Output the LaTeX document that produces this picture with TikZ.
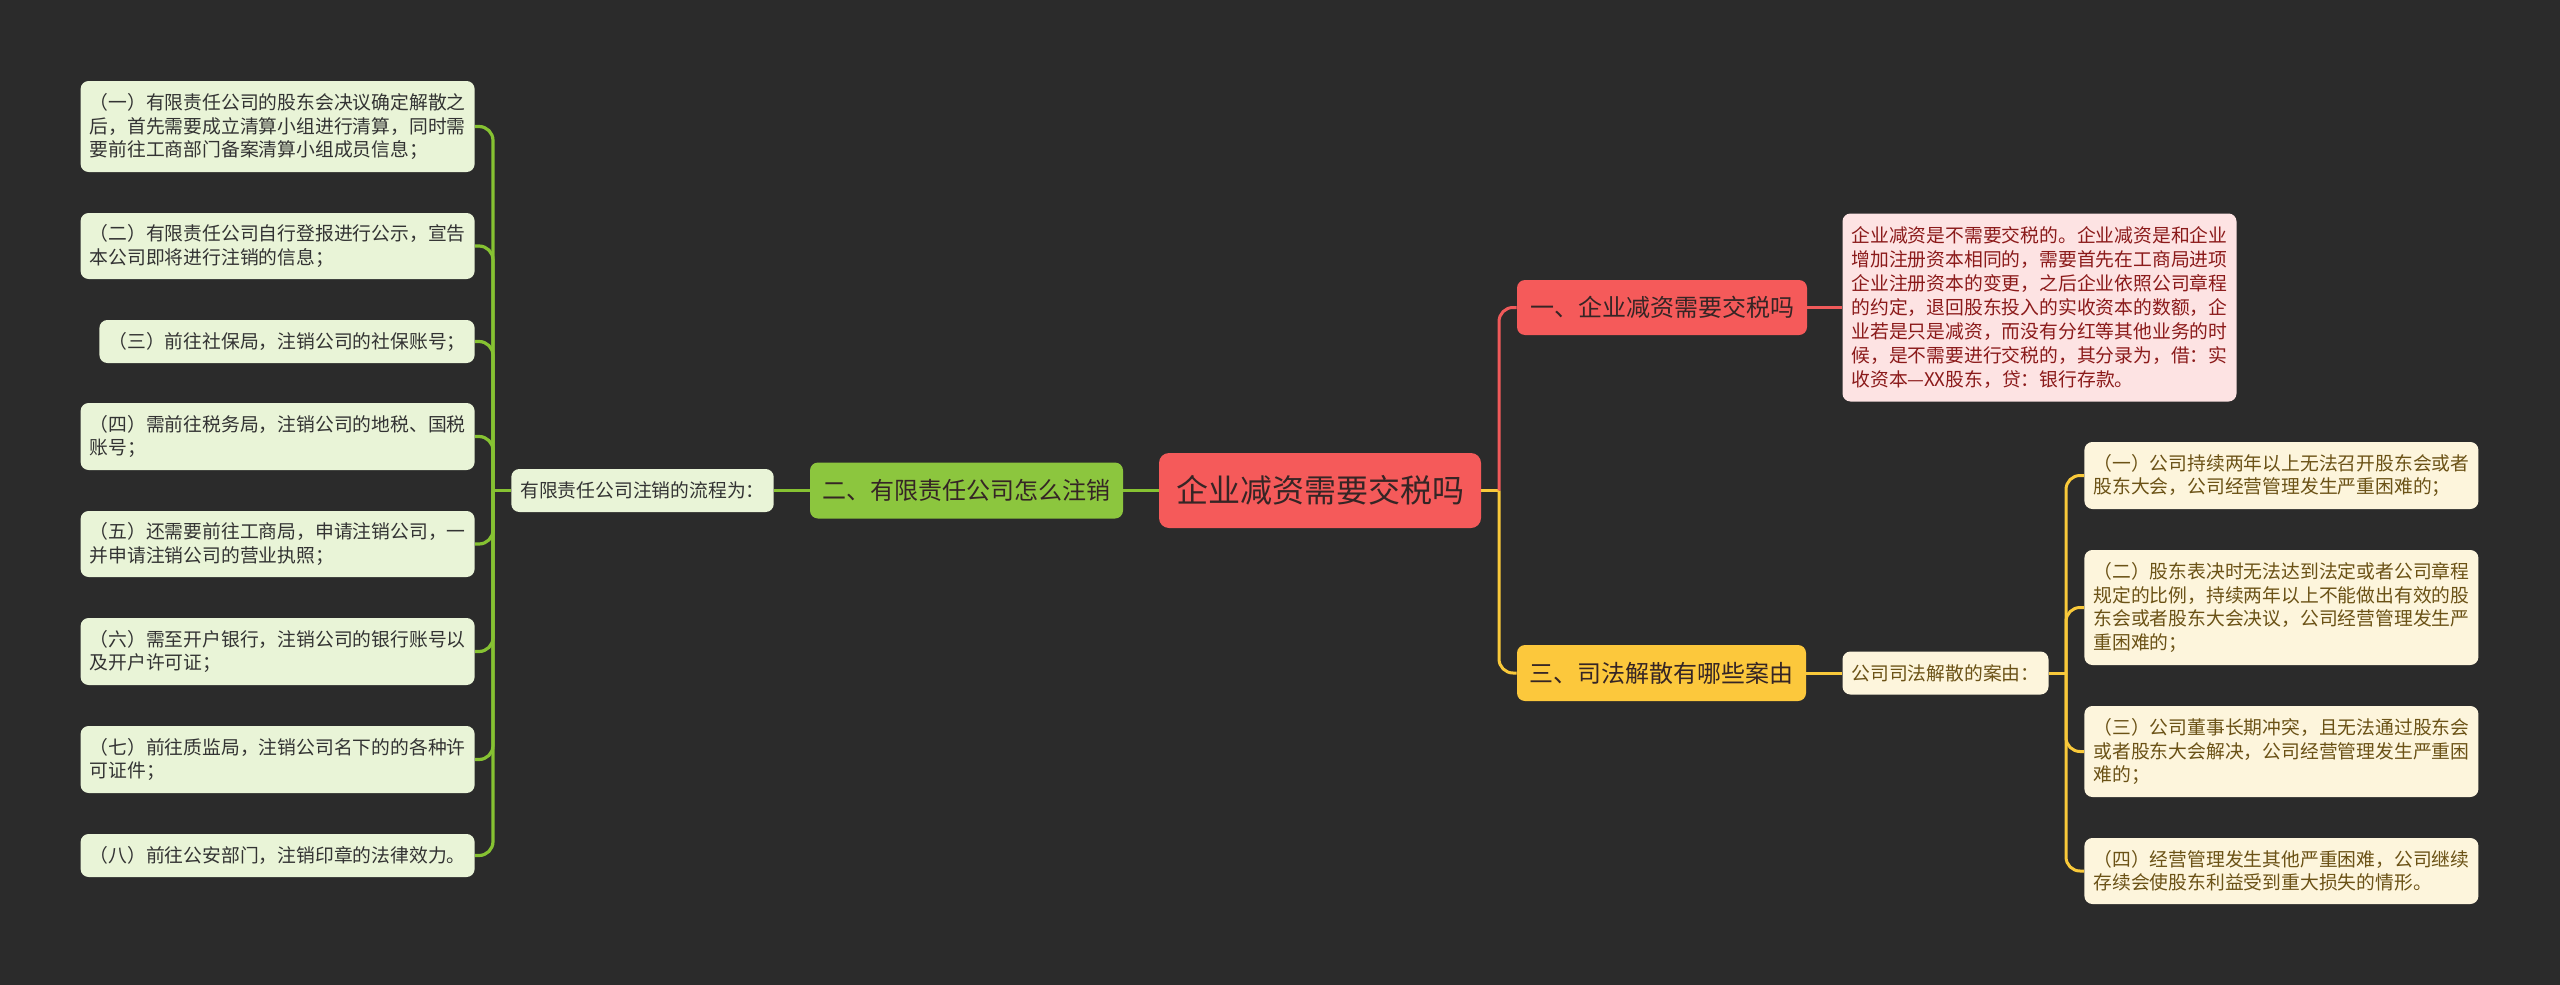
\documentclass[tikz,border=0pt]{standalone}
\usepackage{fontspec}
\newfontfamily\cjk{Noto Sans CJK SC}
\definecolor{bg}{HTML}{2B2B2B}
\definecolor{gline}{HTML}{86C232}
\definecolor{gfill}{HTML}{8CC63E}
\definecolor{gleaf}{HTML}{E9F4D7}
\definecolor{gtext}{HTML}{333333}
\definecolor{rfill}{HTML}{F55A5A}
\definecolor{rline}{HTML}{F05A5A}
\definecolor{pfill}{HTML}{FDE3E3}
\definecolor{ptext}{HTML}{8B1A1A}
\definecolor{yfill}{HTML}{FCC83C}
\definecolor{yline}{HTML}{F9C93A}
\definecolor{cfill}{HTML}{FDF5DC}
\definecolor{ctext}{HTML}{6B5216}
\definecolor{dtext}{HTML}{352525}
\begin{document}
\begin{tikzpicture}[x=0.5pt,y=-0.5pt,
  box/.style={rounded corners=4pt, inner xsep=4.5pt, inner ysep=0pt, align=left,
    font=\cjk\fontsize{9.4pt}{11.75pt}\selectfont},
  gleafbox/.style={box, fill=gleaf, text=gtext, anchor=east},
  yleafbox/.style={box, fill=cfill, text=ctext, anchor=west},
  branchbox/.style={rounded corners=4pt, inner sep=0pt, text=dtext,
    font=\cjk\fontsize{12pt}{14pt}\selectfont},
  glink/.style={draw=gline, line width=1.6pt, rounded corners=7pt},
  rlink/.style={draw=rline, line width=1.5pt, rounded corners=7pt},
  ylink/.style={draw=yline, line width=1.5pt, rounded corners=7pt}
]
\fill[bg] (0,0) rectangle (2560,985);
\useasboundingbox (0,0) rectangle (2560,985);

% centre
\node[rounded corners=5pt, fill=rfill, text=dtext, minimum width=161pt, minimum height=37.5pt,
  inner sep=0pt, font=\cjk\fontsize{16pt}{18pt}\selectfont] (center) at (1320,490.5) {企业减资需要交税吗};

% left branch
\node[branchbox, fill=gfill, minimum width=156.5pt, minimum height=28pt] (b2) at (966.5,490.5) {二、有限责任公司怎么注销};
\node[box, fill=gleaf, text=gtext, minimum height=21.5pt] (mid) at (642.5,490.5) {有限责任公司注销的流程为：};

\node[gleafbox, minimum height=45.5pt] (l1) at (475,126.5) {（一）有限责任公司的股东会决议确定解散之\\后，首先需要成立清算小组进行清算，同时需\\要前往工商部门备案清算小组成员信息；};
\node[gleafbox, minimum height=33pt] (l2) at (475,246) {（二）有限责任公司自行登报进行公示，宣告\\本公司即将进行注销的信息；};
\node[gleafbox, minimum height=21.5pt] (l3) at (475,341.5) {（三）前往社保局，注销公司的社保账号；};
\node[gleafbox, minimum height=33.5pt] (l4) at (475,436.5) {（四）需前往税务局，注销公司的地税、国税\\账号；};
\node[gleafbox, minimum height=33pt] (l5) at (475,544) {（五）还需要前往工商局，申请注销公司，一\\并申请注销公司的营业执照；};
\node[gleafbox, minimum height=33.5pt] (l6) at (475,651.5) {（六）需至开户银行，注销公司的银行账号以\\及开户许可证；};
\node[gleafbox, minimum height=33.5pt] (l7) at (475,759.5) {（七）前往质监局，注销公司名下的的各种许\\可证件；};
\node[gleafbox, minimum height=21.5pt] (l8) at (475,855.5) {（八）前往公安部门，注销印章的法律效力。};

% right branches
\node[branchbox, fill=rfill, minimum width=145pt, minimum height=27.5pt] (b1) at (1662,307.5) {一、企业减资需要交税吗};
\node[box, fill=pfill, text=ptext, minimum height=94pt,
  font=\cjk\fontsize{9.4pt}{12pt}\selectfont] (pink) at (2039.5,307.5)
  {企业减资是不需要交税的。企业减资是和企业\\增加注册资本相同的，需要首先在工商局进项\\企业注册资本的变更，之后企业依照公司章程\\的约定，退回股东投入的实收资本的数额，企\\业若是只是减资，而没有分红等其他业务的时\\候，是不需要进行交税的，其分录为，借：实\\收资本—XX股东，贷：银行存款。};

\node[branchbox, fill=yfill, minimum width=144.5pt, minimum height=28pt] (b3) at (1661.5,673) {三、司法解散有哪些案由};
\node[box, fill=cfill, text=ctext, minimum height=21.5pt] (q) at (1945.5,673) {公司司法解散的案由：};

\node[yleafbox, minimum height=33.5pt] (r1) at (2084,475.5) {（一）公司持续两年以上无法召开股东会或者\\股东大会，公司经营管理发生严重困难的；};
\node[yleafbox, minimum height=57.5pt] (r2) at (2084,607.5) {（二）股东表决时无法达到法定或者公司章程\\规定的比例，持续两年以上不能做出有效的股\\东会或者股东大会决议，公司经营管理发生严\\重困难的；};
\node[yleafbox, minimum height=45.5pt] (r3) at (2084,751.5) {（三）公司董事长期冲突，且无法通过股东会\\或者股东大会解决，公司经营管理发生严重困\\难的；};
\node[yleafbox, minimum height=33pt] (r4) at (2084,871) {（四）经营管理发生其他严重困难，公司继续\\存续会使股东利益受到重大损失的情形。};

% connectors left
\coordinate (sL) at (493,490.5);
\foreach \n in {l1,l2,l3,l4,l5,l6,l7,l8} {\path[glink] (\n.east) -| (sL);}
\path[glink] (sL) -- (mid.west);
\path[glink] (mid.east) -- (b2.west);
\path[glink] (b2.east) -- (center.west);

% connectors right
\coordinate (sR) at (1499,490.5);
\path[ylink] (center.east) -- (sR);
\path[rlink] (b1.west) -| (sR);
\path[ylink] (b3.west) -| (sR);
\path[rlink] (b1.east) -- (pink.west);
\path[ylink] (b3.east) -- (q.west);
\coordinate (sR2) at (2066,673);
\path[ylink] (q.east) -- (sR2);
\foreach \n in {r1,r2,r3,r4} {\path[ylink] (\n.west) -| (sR2);}
\end{tikzpicture}
\end{document}
